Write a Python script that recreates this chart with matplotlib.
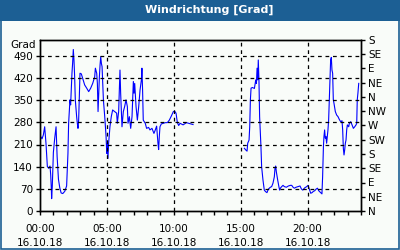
import numpy as np
import matplotlib
matplotlib.use("Agg")
import matplotlib.pyplot as plt
from matplotlib.patches import Rectangle

# hours since 16.10.18 00:00; the record has a gap between the two parts
part1_hours = [
    0.05, 0.15, 0.25, 0.35, 0.45, 0.55, 0.65, 0.75, 0.80, 0.85,
    0.87, 0.92, 1.00, 1.10, 1.20, 1.28, 1.38, 1.48, 1.58, 1.70,
    1.85, 1.99, 2.09, 2.14, 2.24, 2.29, 2.34, 2.39, 2.44, 2.49,
    2.54, 2.59, 2.64, 2.74, 2.79, 2.84, 2.89, 2.94, 2.99, 3.09,
    3.19, 3.34, 3.49, 3.64, 3.79, 3.94, 4.09, 4.14, 4.24, 4.29,
    4.34, 4.39, 4.44, 4.49, 4.54, 4.59, 4.64, 4.69, 4.74, 4.84,
    4.94, 4.99, 5.04, 5.08, 5.13, 5.23, 5.33, 5.43, 5.58, 5.73,
    5.78, 5.88, 5.98, 6.03, 6.13, 6.23, 6.33, 6.43, 6.53, 6.58,
    6.68, 6.78, 6.88, 6.98, 7.03, 7.08, 7.18, 7.28, 7.38, 7.48,
    7.58, 7.62, 7.67, 7.72, 7.87, 7.97, 8.12, 8.22, 8.37, 8.52,
    8.62, 8.72, 8.82, 8.87, 8.92, 8.97, 9.07, 9.22, 9.37, 9.52,
    9.67, 9.82, 9.97, 10.07, 10.17, 10.27, 10.37, 10.47, 10.70, 10.95,
    11.20, 11.44,
]
part1_grad = [
    235, 228, 240, 266, 212, 140, 135, 142, 114, 68,
    39, 79, 185, 230, 266, 172, 100, 73, 57, 55,
    62, 79, 182, 277, 351, 335, 382, 435, 468, 510,
    477, 424, 351, 298, 277, 261, 287, 361, 435, 433,
    419, 398, 388, 377, 388, 403, 424, 451, 435, 403,
    314, 372, 424, 461, 487, 466, 456, 403, 351, 298,
    235, 182, 214, 166, 214, 266, 298, 319, 314, 309,
    277, 314, 445, 372, 266, 314, 330, 351, 330, 277,
    298, 261, 298, 409, 372, 403, 330, 287, 330, 382,
    414, 451, 382, 287, 277, 261, 264, 256, 261, 245,
    256, 268, 214, 194, 235, 266, 275, 277, 279, 279,
    287, 300, 314, 315, 309, 279, 270, 277, 272, 279,
    276, 273,
]
part2_hours = [
    15.28, 15.38, 15.48, 15.53, 15.63, 15.68, 15.73, 15.78, 15.88, 16.03,
    16.13, 16.18, 16.23, 16.28, 16.32, 16.37, 16.42, 16.52, 16.57, 16.67,
    16.77, 16.87, 16.97, 17.07, 17.22, 17.32, 17.42, 17.52, 17.57, 17.62,
    17.67, 17.77, 17.87, 17.92, 17.97, 18.07, 18.17, 18.27, 18.42, 18.57,
    18.72, 18.82, 18.92, 19.02, 19.14, 19.29, 19.44, 19.54, 19.64, 19.79,
    19.94, 20.04, 20.14, 20.24, 20.34, 20.44, 20.54, 20.64, 20.74, 20.84,
    20.94, 21.04, 21.08, 21.13, 21.19, 21.23, 21.28, 21.33, 21.38, 21.43,
    21.48, 21.53, 21.58, 21.63, 21.68, 21.73, 21.78, 21.83, 21.88, 21.93,
    21.98, 22.08, 22.18, 22.28, 22.38, 22.48, 22.58, 22.63, 22.68, 22.73,
    22.78, 22.83, 22.88, 22.93, 22.98, 23.08, 23.13, 23.23, 23.33, 23.43,
    23.53, 23.63, 23.68, 23.72, 23.77, 23.83,
]
part2_grad = [
    198, 193, 189, 214, 224, 266, 351, 388, 390, 387,
    414, 403, 451, 414, 477, 414, 298, 203, 140, 98,
    66, 61, 58, 69, 75, 77, 88, 108, 135, 142,
    124, 98, 75, 66, 72, 77, 81, 77, 75, 79,
    81, 81, 75, 72, 75, 77, 79, 70, 66, 73,
    77, 81, 69, 56, 58, 62, 64, 69, 72, 64,
    60, 56, 54, 108, 203, 235, 256, 230, 235, 214,
    235, 256, 287, 351, 414, 477, 485, 445, 435, 351,
    340, 314, 303, 298, 289, 282, 285, 256, 198, 177,
    193, 214, 224, 256, 272, 266, 277, 282, 272, 261,
    266, 272, 277, 351, 372, 403,
]

left_ticks = [0, 70, 140, 210, 280, 350, 420, 490]
compass_ticks = [0, 45, 90, 135, 180, 225, 270, 315, 360, 405, 450, 495, 540]
compass_labels = ["N", "NE", "E", "SE", "S", "SW", "W", "NW", "N", "NE", "E", "SE", "S"]
hour_ticks = [0, 5, 10, 15, 20]
hour_labels = ["00:00\n16.10.18", "05:00\n16.10.18", "10:00\n16.10.18",
               "15:00\n16.10.18", "20:00\n16.10.18"]

bar_blue = "#1c5f94"
bg = "#f9fcf9"
fs = 7.5

# join both parts with a NaN so the line breaks at the gap
hours = np.array(part1_hours + [np.nan] + part2_hours)
grad = np.array(part1_grad + [np.nan] + part2_grad, dtype=float)

fig = plt.figure(figsize=(4, 2.5), dpi=100, facecolor=bg)

# title bar and frame
fig.patches.append(Rectangle((0, 0.918), 1, 0.082, transform=fig.transFigure,
                             facecolor=bar_blue, edgecolor="none", zorder=0))
fig.patches.append(Rectangle((0.0015, 0.003), 0.997, 0.994, transform=fig.transFigure,
                             facecolor="none", edgecolor=bar_blue, linewidth=1.2, zorder=1))
fig.text(0.523, 0.959, "Windrichtung [Grad]", color="white", fontsize=8,
         fontweight="bold", ha="center", va="center")

ax = fig.add_axes([0.1, 0.156, 0.8025, 0.684])
ax.set_facecolor(bg)
ax.plot(hours, grad, color="#0000ff", linewidth=0.8)

ax.set_xlim(0, 24)
ax.set_ylim(0, 540)
ax.set_xticks(hour_ticks)
ax.set_xticklabels(hour_labels, fontsize=fs, linespacing=1.5)
ax.set_xticks(range(0, 25), minor=True)
ax.set_yticks(left_ticks)
ax.set_yticklabels([str(v) for v in left_ticks], fontsize=fs)
ax.tick_params(axis="x", which="both", direction="out", length=3, width=1, pad=6)
ax.tick_params(axis="y", direction="out", length=3, width=1, pad=2)

for h in hour_ticks[1:]:
    ax.axvline(h, color="black", linestyle=(0, (3, 3)), linewidth=0.9)
for v in left_ticks[1:]:
    ax.axhline(v, color="black", linestyle=(0, (3, 3)), linewidth=0.9)

ax2 = ax.twinx()
ax2.set_ylim(0, 540)
ax2.set_yticks(compass_ticks)
ax2.set_yticklabels(compass_labels, fontsize=fs)
ax2.tick_params(axis="y", direction="out", length=3, width=1, pad=2)

for a in (ax, ax2):
    for s in a.spines.values():
        s.set_linewidth(1)
        s.set_color("black")

ax.text(-0.012, 524, "Grad", fontsize=fs, ha="right", va="center",
        transform=ax.get_yaxis_transform())

fig.savefig("out.png", dpi=100, facecolor=bg)
